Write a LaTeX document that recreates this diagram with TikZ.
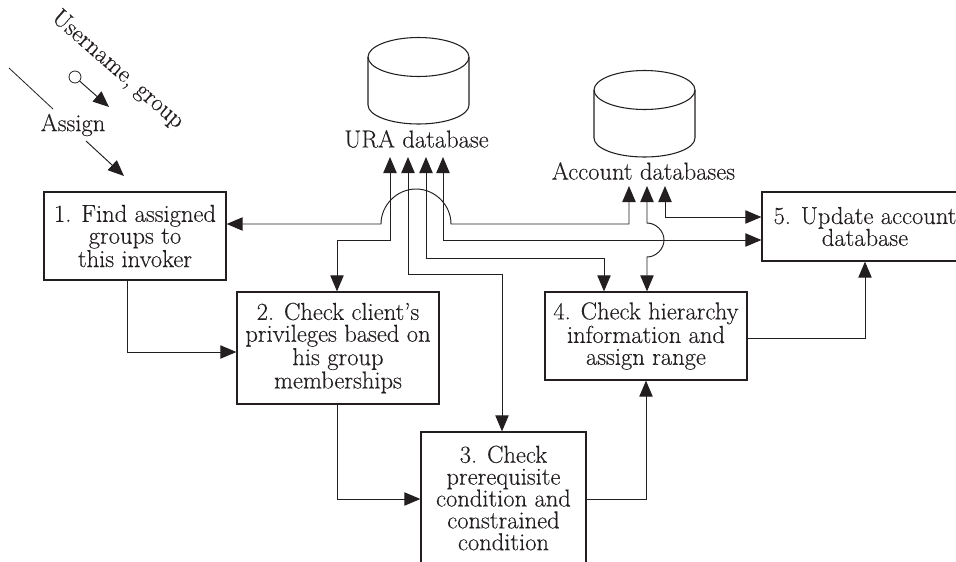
\documentclass[tikz,border=0pt]{standalone}
\usepackage{fontspec}
\setmainfont{Latin Modern Roman}[FakeBold=0.25]
\usetikzlibrary{arrows.meta}
\definecolor{ink}{HTML}{231F20}
\tikzset{
  px/.style={x=0.75pt,y=-0.75pt},
  conn/.style={draw=ink,line width=0.72pt,-{Triangle[length=12pt,width=10pt]}},
  biconn/.style={draw=ink,line width=0.72pt,{Triangle[length=12pt,width=10pt]}-{Triangle[length=12pt,width=10pt]}},
  thinline/.style={draw=ink,line width=0.6pt},
  stepbox/.style={draw=ink,line width=0.95pt,align=center,inner sep=0pt,text=ink,
    font=\fontsize{18.4}{16.4}\selectfont},
  lbl/.style={text=ink,inner sep=0pt,font=\fontsize{18.4}{16.4}\selectfont},
  pics/dbcyl/.style={code={
    \draw[draw=ink,line width=0.8pt] (0,0) ellipse [x radius=50.5,y radius=19.5];
    \draw[draw=ink,line width=0.8pt] (-50.5,0) -- (-50.5,48)
      .. controls (-50.5,58.5) and (-28,67) .. (0,67)
      .. controls (28,67) and (50.5,58.5) .. (50.5,48) -- (50.5,0);
  }}
}
\begin{document}
\begin{tikzpicture}[px]
\useasboundingbox (0,0) rectangle (956,561);
\clip (0,0) rectangle (956,561);
% databases
\pic at (418.5,57) {dbcyl};
\pic at (644.5,90) {dbcyl};
\node[lbl] (uralbl) at (416.5,139) {URA database};
\node[lbl] (acclbl) at (643.5,171) {Account databases};
% steps
\node[stepbox,minimum width=136.5pt,minimum height=66pt] (s1) at (135,236) {1. Find assigned\\groups to\\this invoker};
\node[stepbox,minimum width=151.5pt,minimum height=84pt] (s2) at (338,348) {2. Check client's\\privileges based on\\his group\\memberships};
\node[stepbox,minimum width=123.75pt,minimum height=99pt] (s3) at (503.5,498) {3. Check\\prerequisite\\condition and\\constrained\\condition};
\node[stepbox,minimum width=151.5pt,minimum height=66pt] (s4) at (646,336) {4. Check hierarchy\\information and\\assign range};
\node[stepbox,minimum width=154.5pt,minimum height=51.75pt] (s5) at (865,226.5) {5. Update account\\database};
% database ports
\coordinate (u1) at (390,157);
\coordinate (u2) at (408,157);
\coordinate (u3) at (426,157);
\coordinate (u4) at (443,157);
\coordinate (a1) at (629,186);
\coordinate (a2) at (647,186);
\coordinate (a3) at (665,186);
% connectors between steps
\draw[conn] (s1.south -| 127,0) |- (s2.west |- 0,352);
\draw[conn] (s2.south -| 337,0) |- (s3.west |- 0,499);
\draw[conn] (s3.east |- 0,499) -| (s4.south);
\draw[conn] (s4.east |- 0,338) -| (s5.south);
% URA connectors
\draw[biconn] (u1) |- (337,240) -- (s2.north -| 337,0);
\draw[biconn] (u2) |- (502,274) -- (s3.north -| 502,0);
\draw[biconn] (u3) |- (604,258) -- (s4.north -| 604,0);
\draw[biconn] (u4) |- (s5.west |- 0,240);
% hump connector: step 1 <-> account db
\draw[biconn] (s1.east |- 0,224) -- (381,224)
  .. controls (381,205) and (397,189) .. (416,189)
  .. controls (435,189) and (451,205) .. (451,224)
  -| (a1);
% hump connector: account db <-> step 4
\draw[biconn] (a2) -- (647,223)
  .. controls (656,223) and (664,231) .. (664,240)
  .. controls (664,249) and (656,257) .. (647,257)
  -- (s4.north -| 647,0);
% account db <-> step 5
\draw[biconn] (a3) |- (s5.west |- 0,217);
% top-left annotation
\node[lbl,rotate=-41] (uname) at (117.5,70) {Username, group};
\node[lbl] (assign) at (73,125) {Assign};
\coordinate (l1) at (9,68);
\coordinate (l2) at (53,109);
\draw[thinline] (l1) -- (l2);
\node[draw=ink,line width=0.6pt,circle,minimum size=9pt,inner sep=0pt] (ring) at (75,77) {};
\coordinate (t1) at (109,107);
\draw[conn] (ring) -- (t1);
\coordinate (n1) at (86,141);
\coordinate (t2) at (124,176);
\draw[conn] (n1) -- (t2);
\end{tikzpicture}
\end{document}
